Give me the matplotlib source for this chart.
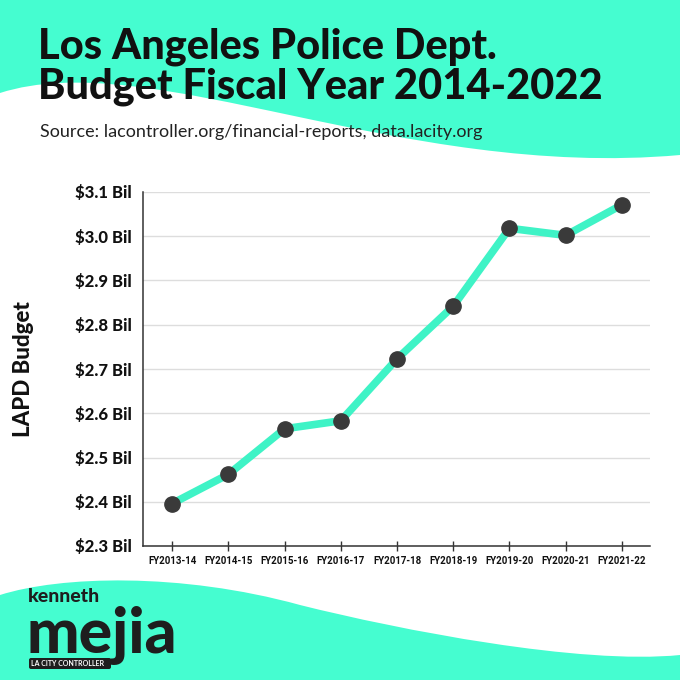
import matplotlib
matplotlib.use('Agg')
import matplotlib.pyplot as plt
from matplotlib.path import Path
from matplotlib.patches import PathPatch, FancyBboxPatch
from matplotlib.ticker import MultipleLocator, FuncFormatter

# 数据
years = ['FY2013-14', 'FY2014-15', 'FY2015-16', 'FY2016-17', 'FY2017-18',
         'FY2018-19', 'FY2019-20', 'FY2020-21', 'FY2021-22']
budget = [2.396, 2.462, 2.565, 2.583, 2.723, 2.842, 3.018, 3.002, 3.071]

teal = '#45fdd0'
line_teal = '#3ff3c6'
dark = '#3a3a3a'

fig = plt.figure(figsize=(6.8, 6.8), dpi=100)

# 背景层, 用像素坐标
bg = fig.add_axes([0, 0, 1, 1], zorder=0)
bg.set_xlim(0, 680)
bg.set_ylim(680, 0)
bg.axis('off')

# 上方波浪
top = Path([(0, 0), (0, 93), (150, 45), (400, 180), (680, 155), (680, 0), (0, 0)],
           [Path.MOVETO, Path.LINETO, Path.CURVE4, Path.CURVE4, Path.CURVE4,
            Path.LINETO, Path.CLOSEPOLY])
bg.add_patch(PathPatch(top, fc=teal, ec='none'))

# 下方波浪
bottom = Path([(0, 680), (0, 595), (60, 576), (180, 572), (300, 605),
               (400, 630), (580, 665), (680, 655), (680, 680), (0, 680)],
              [Path.MOVETO, Path.LINETO, Path.CURVE4, Path.CURVE4, Path.CURVE4,
               Path.CURVE4, Path.CURVE4, Path.CURVE4, Path.LINETO, Path.CLOSEPOLY])
bg.add_patch(PathPatch(bottom, fc=teal, ec='none'))

# 标题
bg.text(38, 58, 'Los Angeles Police Dept.', fontsize=30, fontweight='black',
        family='Lato', color='#111111', va='baseline')
bg.text(38, 99, 'Budget Fiscal Year 2014-2022', fontsize=30, fontweight='black',
        family='Lato', color='#111111', va='baseline')
bg.text(40, 137, 'Source: lacontroller.org/financial-reports, data.lacity.org',
        fontsize=13, family='Lato', color='#222222', va='baseline')

# logo
bg.text(28, 602, 'kenneth', fontsize=14, fontweight='black', family='Lato',
        color='#1e1e1e', va='baseline')
bg.text(26, 653, 'mejia', fontsize=45, fontweight='black', family='Lato',
        color='#1e1e1e', va='baseline')
bg.add_patch(FancyBboxPatch((29, 658), 82, 11, boxstyle='round,pad=0,rounding_size=2',
                            fc='#1e1e1e', ec='none'))
bg.text(31, 664, 'LA CITY CONTROLLER', fontsize=5, fontweight='bold', family='Lato',
        color='white', va='center')

# 主图
ax = fig.add_axes([143 / 680, 1 - 546 / 680, (650 - 143) / 680, (546 - 192) / 680], zorder=1)
ax.set_facecolor('none')
x = range(len(years))
ax.plot(x, budget, color=line_teal, lw=5.5, solid_capstyle='round', zorder=3)
ax.plot(x, budget, 'o', color=dark, ms=11, zorder=4)

ax.set_xlim(-0.52, 8.5)
ax.set_ylim(2.3, 3.1)
ax.set_xticks(list(x))
ax.set_xticklabels(years, fontsize=7, fontweight='bold', family='Roboto', color='#111111')
ax.tick_params(axis='x', direction='inout', length=7, width=1, color='#333333', pad=4)

ax.yaxis.set_major_locator(MultipleLocator(0.1))
ax.yaxis.set_major_formatter(FuncFormatter(lambda v, p: '$%.1f Bil' % v))
ax.yaxis.set_minor_locator(MultipleLocator(0.2))
ax.tick_params(axis='y', which='major', length=0, pad=8, labelsize=12)
ax.tick_params(axis='y', which='minor', length=4.5, width=1, color='#333333')
for lab in ax.get_yticklabels():
    lab.set_fontweight('black')
    lab.set_family('Lato')
    lab.set_color('#111111')

ax.grid(axis='y', color='#dddddd', lw=1)
ax.set_axisbelow(True)
for s in ['top', 'right']:
    ax.spines[s].set_visible(False)
for s in ['left', 'bottom']:
    ax.spines[s].set_color('#333333')
    ax.spines[s].set_linewidth(1.1)

ax.set_ylabel('LAPD Budget', fontsize=16, fontweight='black', family='Lato',
              color='#111111')
ax.yaxis.set_label_coords(-0.215, 0.5)

fig.savefig('out.png', dpi=100)
